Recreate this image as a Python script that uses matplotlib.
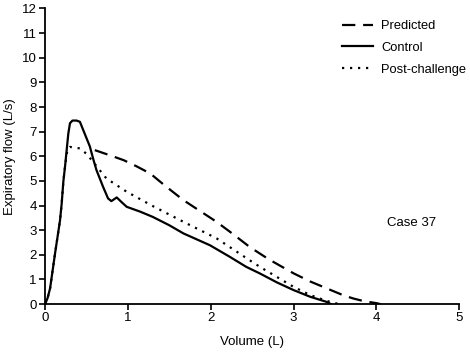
import matplotlib
matplotlib.use("Agg")
import matplotlib.pyplot as plt

plt.rcParams['font.family'] = ['Liberation Sans', 'DejaVu Sans']

# flow-volume curves
pred_vol = [0.60, 0.80, 0.95, 1.10, 1.27, 1.45, 1.67, 1.87, 2.07, 2.27, 2.47, 2.70, 3.00, 3.20, 3.40, 3.60, 3.72, 3.85, 4.00, 4.05]
pred_flow = [6.25, 6.02, 5.84, 5.60, 5.30, 4.80, 4.22, 3.78, 3.34, 2.84, 2.32, 1.82, 1.25, 0.92, 0.64, 0.36, 0.23, 0.12, 0.04, 0.0]

ctrl_vol = [0.0, 0.03, 0.06, 0.12, 0.18, 0.20, 0.22, 0.24, 0.28, 0.30, 0.33, 0.38, 0.42, 0.48, 0.54,
            0.58, 0.62, 0.70, 0.76, 0.80, 0.865, 0.92, 0.985, 1.15, 1.30, 1.50, 1.67, 1.99, 2.23,
            2.43, 2.59, 2.80, 3.00, 3.20, 3.40, 3.45]
ctrl_flow = [0.0, 0.25, 0.64, 2.06, 3.40, 4.08, 4.97, 5.57, 6.92, 7.34, 7.45, 7.45, 7.40, 6.90, 6.40,
             5.90, 5.44, 4.76, 4.29, 4.18, 4.33, 4.15, 3.95, 3.75, 3.54, 3.20, 2.87, 2.39, 1.92,
             1.51, 1.25, 0.88, 0.57, 0.30, 0.09, 0.0]

post_vol = [0.0, 0.03, 0.06, 0.12, 0.18, 0.20, 0.22, 0.24, 0.27, 0.30, 0.42, 0.50, 0.58, 0.74, 0.985,
            1.30, 1.67, 2.07, 2.47, 2.59, 3.00, 3.20, 3.40, 3.55]
post_flow = [0.0, 0.25, 0.64, 2.06, 3.40, 4.08, 4.97, 5.57, 6.30, 6.38, 6.32, 6.10, 5.77, 5.10, 4.56,
             3.98, 3.34, 2.67, 1.78, 1.52, 0.70, 0.37, 0.13, 0.0]

fig = plt.figure(figsize=(4.7, 3.52), dpi=100)
ax = fig.add_axes([0.096, 0.136, 0.881, 0.840])

ax.plot(pred_vol, pred_flow, color='black', lw=1.6, linestyle=(0, (6, 3.5)), label='Predicted')
ax.plot(ctrl_vol, ctrl_flow, color='black', lw=1.6, label='Control')
ax.plot(post_vol, post_flow, color='black', lw=1.6, linestyle=(0, (1, 2.6)), label='Post-challenge')

ax.set_xlim(0, 5)
ax.set_ylim(0, 12)
ax.set_xticks(range(0, 6))
ax.set_yticks(range(0, 13))
ax.spines['top'].set_visible(False)
ax.spines['right'].set_visible(False)
ax.spines['left'].set_linewidth(1.3)
ax.spines['bottom'].set_linewidth(1.3)
ax.tick_params(direction='out', length=4, width=1.2, labelsize=9.5, colors='black', pad=2)
ax.set_xlabel('Volume (L)', fontsize=9.5, labelpad=8)
ax.set_ylabel('Expiratory flow (L/s)', fontsize=9.5, labelpad=4)

ax.text(4.42, 3.31, 'Case 37', fontsize=9.5, ha='center', va='center')

ax.legend(loc='upper right', bbox_to_anchor=(1.045, 1.0), frameon=False, fontsize=9.3,
          handlelength=2.4, handletextpad=0.6, labelspacing=0.75)

fig.savefig('out.png', dpi=100)
